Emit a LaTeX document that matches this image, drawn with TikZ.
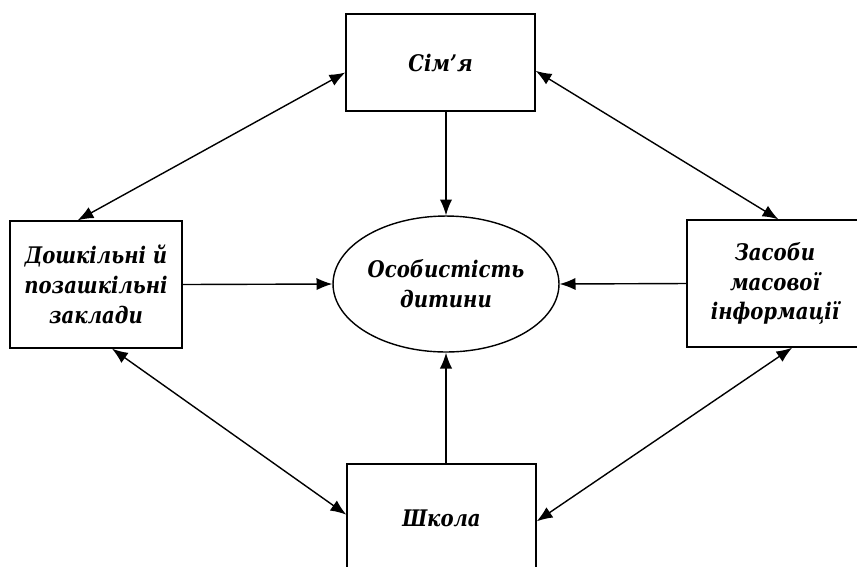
\documentclass[tikz,border=0pt]{standalone}
\usepackage{fontspec}
\setmainfont{DejaVu Serif}[FakeStretch=0.86]
\usetikzlibrary{arrows.meta,shapes.geometric}

\begin{document}
\begin{tikzpicture}[>={Latex[length=9pt,width=7pt]},x=0.02cm,y=-0.02cm,
  line width=0.8pt,
  blok/.style={draw,rectangle,inner sep=0pt,align=center,
    font=\fontsize{13}{17}\selectfont\bfseries\itshape},
  centr/.style={draw,ellipse,inner sep=0pt,align=center,
    minimum width=4.52cm,minimum height=2.72cm,
    font=\fontsize{13}{17}\selectfont\bfseries\itshape}]
	% ramka
	\useasboundingbox (0,0) rectangle (857,566);
	% vuzly
	\node[centr] (osob) at (446,284) {Особистість\\дитини};
	\node[blok,minimum width=3.78cm,minimum height=1.94cm] (simja) at (440.5,62.5) {Сім’я};
	\node[blok,minimum width=3.78cm,minimum height=2.16cm] (shkola) at (441.5,518) {Школа};
	\node[blok,minimum width=3.44cm,minimum height=2.54cm] (doshk) at (96,284.5) {Дошкільні й\\позашкільні\\заклади};
	\node[blok,minimum width=3.52cm,minimum height=2.54cm] (zmi) at (775,283.5) {Засоби\\масової\\інформації};
	% strilky do centru
	\draw[->] (osob |- simja.south) -- (osob.north);
	\draw[->] (doshk.east) -- (osob.west);
	\draw[->] (zmi.west) -- (osob.east);
	\draw[->] (osob |- shkola.north) -- (osob.south);
	% podviini strilky
	\draw[<->] (doshk.106) -- (simja.186);
	\draw[<->] (simja.355.5) -- (zmi.87);
	\draw[<->] (doshk.284) -- (shkola.178);
	\draw[<->] (zmi.285) -- (shkola.358);
\end{tikzpicture}
\end{document}
